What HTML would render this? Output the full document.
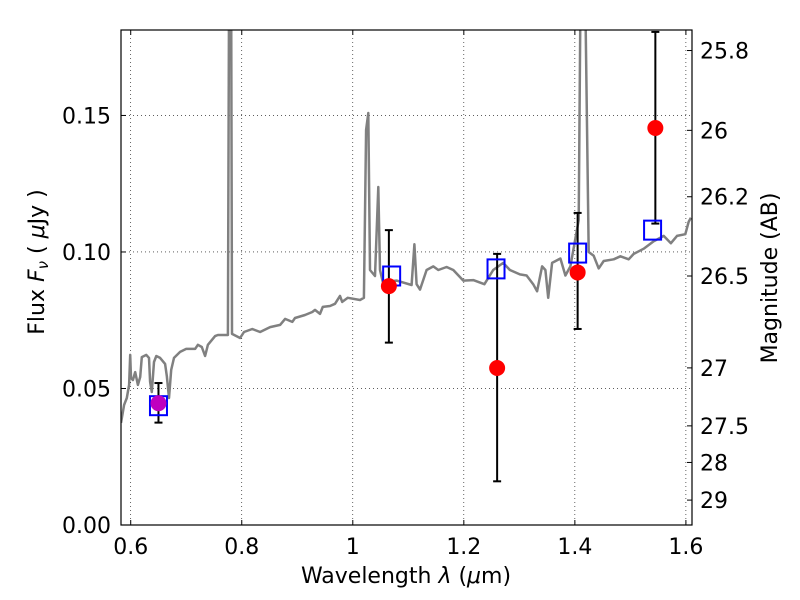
<!DOCTYPE html>
<html><head><meta charset="utf-8">
<style>
body{margin:0;background:#fff;}
svg{display:block;font-family:"DejaVu Sans","Liberation Sans",sans-serif;}
</style></head>
<body>
<svg id="chart" width="800" height="600" viewBox="0 0 800 600"></svg>
<script>
const specLam=[0.5825,0.588,0.593,0.597,0.599,0.6005,0.604,0.608,0.613,0.617,0.620,0.628,0.633,0.635,0.638,0.642,0.646,0.653,0.662,0.665,0.669,0.673,0.678,0.689,0.700,0.716,0.721,0.728,0.734,0.739,0.752,0.757,0.775,0.777,0.781,0.7825,0.797,0.804,0.819,0.833,0.851,0.869,0.878,0.883,0.891,0.896,0.914,0.927,0.932,0.941,0.946,0.959,0.968,0.977,0.981,0.991,1.013,1.020,1.024,1.028,1.031,1.040,1.046,1.049,1.054,1.079,1.106,1.111,1.115,1.121,1.133,1.145,1.154,1.169,1.181,1.199,1.217,1.237,1.253,1.271,1.283,1.301,1.313,1.325,1.332,1.341,1.347,1.352,1.359,1.374,1.383,1.392,1.407,1.410,1.419,1.425,1.434,1.443,1.452,1.470,1.482,1.497,1.506,1.524,1.542,1.560,1.573,1.584,1.599,1.605,1.609];
const specFlux=[0.0374,0.044,0.0465,0.0513,0.0623,0.0538,0.0531,0.056,0.0513,0.0542,0.0615,0.0623,0.0612,0.0524,0.0487,0.0597,0.0619,0.0612,0.059,0.0546,0.0465,0.0568,0.0612,0.0634,0.0645,0.0645,0.066,0.0652,0.0619,0.066,0.0692,0.0696,0.0696,0.19,0.19,0.070,0.0685,0.0707,0.0718,0.0707,0.0725,0.0733,0.0755,0.0751,0.0744,0.0758,0.0769,0.078,0.0788,0.0773,0.0799,0.0802,0.081,0.0839,0.0817,0.0832,0.0824,0.0832,0.1447,0.1509,0.0934,0.0912,0.1238,0.0934,0.089,0.0895,0.0879,0.1028,0.0882,0.0862,0.0934,0.0947,0.0934,0.0945,0.0934,0.0895,0.0897,0.0882,0.0934,0.096,0.0934,0.0918,0.0914,0.0882,0.0856,0.0947,0.0934,0.0832,0.096,0.0976,0.0914,0.0947,0.1117,0.19,0.19,0.1,0.0986,0.094,0.0967,0.0973,0.0984,0.0973,0.0993,0.1012,0.1039,0.1059,0.1032,0.1059,0.1065,0.1111,0.1125];
const modelLam=[0.65,1.07,1.258,1.405,1.54];
const modelFlux=[0.0437,0.0912,0.0938,0.0996,0.108];
const obsLam=[0.65,1.065,1.26,1.405,1.545];
const obsFlux=[0.0446,0.0875,0.0575,0.0925,0.1454];
const obsLo=[0.0375,0.0668,0.016,0.0718,0.1104];
const obsHi=[0.052,0.108,0.0993,0.1143,0.1806];
const obsColor=['#bf00bf','red','red','red','red'];
const xTicks=[0.6,0.8,1.0,1.2,1.4,1.6];
const xTickLabels=['0.6','0.8','1','1.2','1.4','1.6'];
const yTicks=[0,0.05,0.10,0.15];
const yTickLabels=['0.00','0.05','0.10','0.15'];
const magTicks=[25.8,26,26.2,26.5,27,27.5,28,29];
const magTickLabels=['25.8','26','26.2','26.5','27','27.5','28','29'];

const L=121,R=692,T=30,B=525;
const X0=0.5825,X1=1.611,Y0=0,Y1=0.1813;
const sx=v=>L+(v-X0)/(X1-X0)*(R-L);
const sy=v=>B-(v-Y0)/(Y1-Y0)*(B-T);
const magToFlux=m=>Math.pow(10,(23.9-m)/2.5);
const NS='http://www.w3.org/2000/svg';
const svg=document.getElementById('chart');
function mk(tag,attrs,parent){const e=document.createElementNS(NS,tag);for(const k in attrs)e.setAttribute(k,attrs[k]);(parent||svg).appendChild(e);return e;}

const defs=mk('defs',{});
const cp=mk('clipPath',{id:'clip'},defs);
mk('rect',{x:L,y:T,width:R-L,height:B-T},cp);

xTicks.forEach((t,i)=>{
  const g=mk('line',{x1:sx(t),x2:sx(t),y1:T,y2:B,stroke:'#000','stroke-width':0.6,'stroke-dasharray':'1,3'});
  
  
  mk('line',{x1:sx(t),x2:sx(t),y1:B,y2:B-5,stroke:'#000'});
  mk('line',{x1:sx(t),x2:sx(t),y1:T,y2:T+5,stroke:'#000'});
  const tx=mk('text',{x:sx(t),y:B+29,'font-size':22,'text-anchor':'middle'});
  tx.textContent=xTickLabels[i];
  
  
});
yTicks.forEach((t,i)=>{
  const g=mk('line',{x1:L,x2:R,y1:sy(t),y2:sy(t),stroke:'#000','stroke-width':0.6,'stroke-dasharray':'1,3'});
  
  
  mk('line',{x1:L,x2:L+5,y1:sy(t),y2:sy(t),stroke:'#000'});
  const tx=mk('text',{x:L-10,y:sy(t)+8,'font-size':22,'text-anchor':'end'});
  tx.textContent=yTickLabels[i];
  
  
});
magTicks.forEach((m,i)=>{
  const y=sy(magToFlux(m));
  mk('line',{x1:R,x2:R-5,y1:y,y2:y,stroke:'#000'});
  const tx=mk('text',{x:R+8,y:y+8,'font-size':22,'text-anchor':'start'});
  tx.textContent=magTickLabels[i];
  
  
});

const pts=specLam.map((l,i)=>sx(l).toFixed(1)+','+sy(specFlux[i]).toFixed(1)).join(' ');
const sp=mk('polyline',{points:pts,fill:'none',stroke:'#808080','stroke-width':2.5,'stroke-linejoin':'round','clip-path':'url(#clip)'});



obsLam.forEach((l,i)=>{
  const x=sx(l);
  const g=mk('g',{stroke:'#000','stroke-width':2});
  
  
  mk('line',{x1:x,x2:x,y1:sy(obsLo[i]),y2:sy(obsHi[i])},g);
  mk('line',{x1:x-4,x2:x+4,y1:sy(obsLo[i]),y2:sy(obsLo[i])},g);
  mk('line',{x1:x-4,x2:x+4,y1:sy(obsHi[i]),y2:sy(obsHi[i])},g);
});
modelLam.forEach((l,i)=>{
  const r=mk('rect',{x:sx(l)-8.5,y:sy(modelFlux[i])-9.5,width:17,height:19,fill:'none',stroke:'#0000ff','stroke-width':2});
  
  
});
obsLam.forEach((l,i)=>{
  const c=mk('circle',{cx:sx(l),cy:sy(obsFlux[i]),r:8,fill:obsColor[i]});
  
  
});

const fr=mk('rect',{x:L,y:T,width:R-L,height:B-T,fill:'none',stroke:'#000','stroke-width':1.2});



const xl=mk('text',{x:406,y:583,'font-size':22,'text-anchor':'middle','xml:space':'preserve'});
xl.innerHTML='Wavelength  <tspan font-style="italic">λ</tspan> (<tspan font-style="italic">μ</tspan>m)';


const yl=mk('text',{x:0,y:0,'font-size':22,'text-anchor':'middle','xml:space':'preserve',transform:'translate(44,262) rotate(-90)'});
yl.innerHTML='Flux  <tspan font-style="italic">F</tspan><tspan font-style="italic" font-size="15" dy="4">ν</tspan><tspan dy="-4">  ( </tspan><tspan font-style="italic">μ</tspan>Jy )';


const rl=mk('text',{x:0,y:0,'font-size':22,'text-anchor':'middle',transform:'translate(777,278) rotate(-90)'});
rl.textContent='Magnitude (AB)';


</script>
</body></html>
